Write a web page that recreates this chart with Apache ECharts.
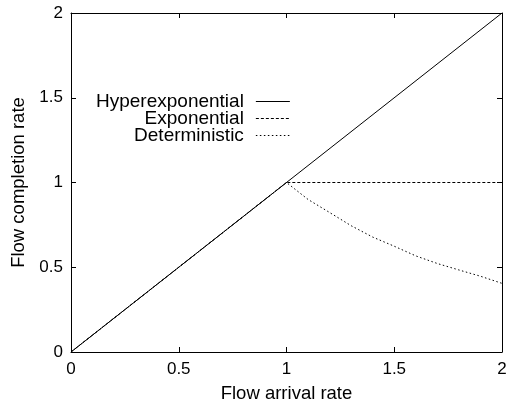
<!DOCTYPE html>
<html lang="en" style="height: 100%">
<head>
  <meta charset="utf-8">
</head>
<body style="height: 100%; margin: 0; background: #fff">
  <div id="container" style="width: 510px; height: 408px"></div>

<script type="text/javascript" src="https://cdn.jsdelivr.net/npm/echarts@6/dist/echarts.min.js"></script>

<script type="text/javascript">
// data
var hyperX = [0, 2];
var hyperY = [0, 2];

var expoX = [0, 1, 2];
var expoY = [0, 1, 1];

var detX = [0, 1, 1.05, 1.1, 1.2, 1.3, 1.4, 1.5, 1.6, 1.7, 1.8, 1.9, 2];
var detY = [0, 1, 0.95, 0.9, 0.823, 0.745, 0.678, 0.624, 0.567, 0.522, 0.484, 0.447, 0.405];

var seriesNames = ['Hyperexponential', 'Exponential', 'Deterministic'];

function pairs(xs, ys) {
  return xs.map(function (x, i) { return [x, ys[i]]; });
}

var dom = document.getElementById('container');
var myChart = echarts.init(dom, null, { renderer: 'canvas' });

var font = 'Liberation Sans, Arial, sans-serif';
var lineStyleAxis = { color: '#000', width: 1 };

var baseAxis = {
  type: 'value',
  min: 0,
  max: 2,
  interval: 0.5,
  axisLine: { show: true, onZero: false, lineStyle: lineStyleAxis },
  axisTick: { show: true, inside: true, length: 5, lineStyle: lineStyleAxis },
  splitLine: { show: false }
};

var option = {
  animation: false,
  backgroundColor: '#fff',
  grid: { left: 71, right: 8, top: 13, bottom: 51 },
  legend: {
    orient: 'vertical',
    align: 'right',
    left: 91,
    top: 87,
    itemWidth: 34,
    itemHeight: 10,
    itemGap: -2,
    itemStyle: { opacity: 0 },
    lineStyle: { width: 1 },
    textStyle: { fontFamily: font, fontSize: 19, lineHeight: 17, color: '#000', padding: [0, 7, 0, 0] },
    data: seriesNames
  },
  xAxis: [
    Object.assign({}, baseAxis, {
      position: 'bottom',
      name: 'Flow arrival rate',
      nameLocation: 'middle',
      nameGap: 32,
      nameTextStyle: { fontFamily: font, fontSize: 18.5, color: '#000' },
      axisLabel: { fontFamily: font, fontSize: 17, color: '#000', margin: 9 }
    }),
    Object.assign({}, baseAxis, {
      position: 'top',
      axisLabel: { show: false }
    })
  ],
  yAxis: [
    Object.assign({}, baseAxis, {
      position: 'left',
      name: 'Flow completion rate',
      nameLocation: 'middle',
      nameGap: 41,
      nameTextStyle: { fontFamily: font, fontSize: 18.5, color: '#000' },
      axisLabel: { fontFamily: font, fontSize: 17, color: '#000', margin: 8 }
    }),
    Object.assign({}, baseAxis, {
      position: 'right',
      axisLabel: { show: false }
    })
  ],
  series: [
    {
      name: seriesNames[2],
      type: 'line',
      symbol: 'none',
      lineStyle: { color: '#000', width: 1, type: [1.5, 2.5] },
      itemStyle: { color: '#000' },
      data: pairs(detX, detY),
      z: 2
    },
    {
      name: seriesNames[1],
      type: 'line',
      symbol: 'none',
      lineStyle: { color: '#000', width: 1, type: [3, 2] },
      itemStyle: { color: '#000' },
      data: pairs(expoX, expoY),
      z: 3
    },
    {
      name: seriesNames[0],
      type: 'line',
      symbol: 'none',
      lineStyle: { color: '#000', width: 1 },
      itemStyle: { color: '#000' },
      data: pairs(hyperX, hyperY),
      z: 4
    }
  ]
};

myChart.setOption(option);
</script>
</body>
</html>
